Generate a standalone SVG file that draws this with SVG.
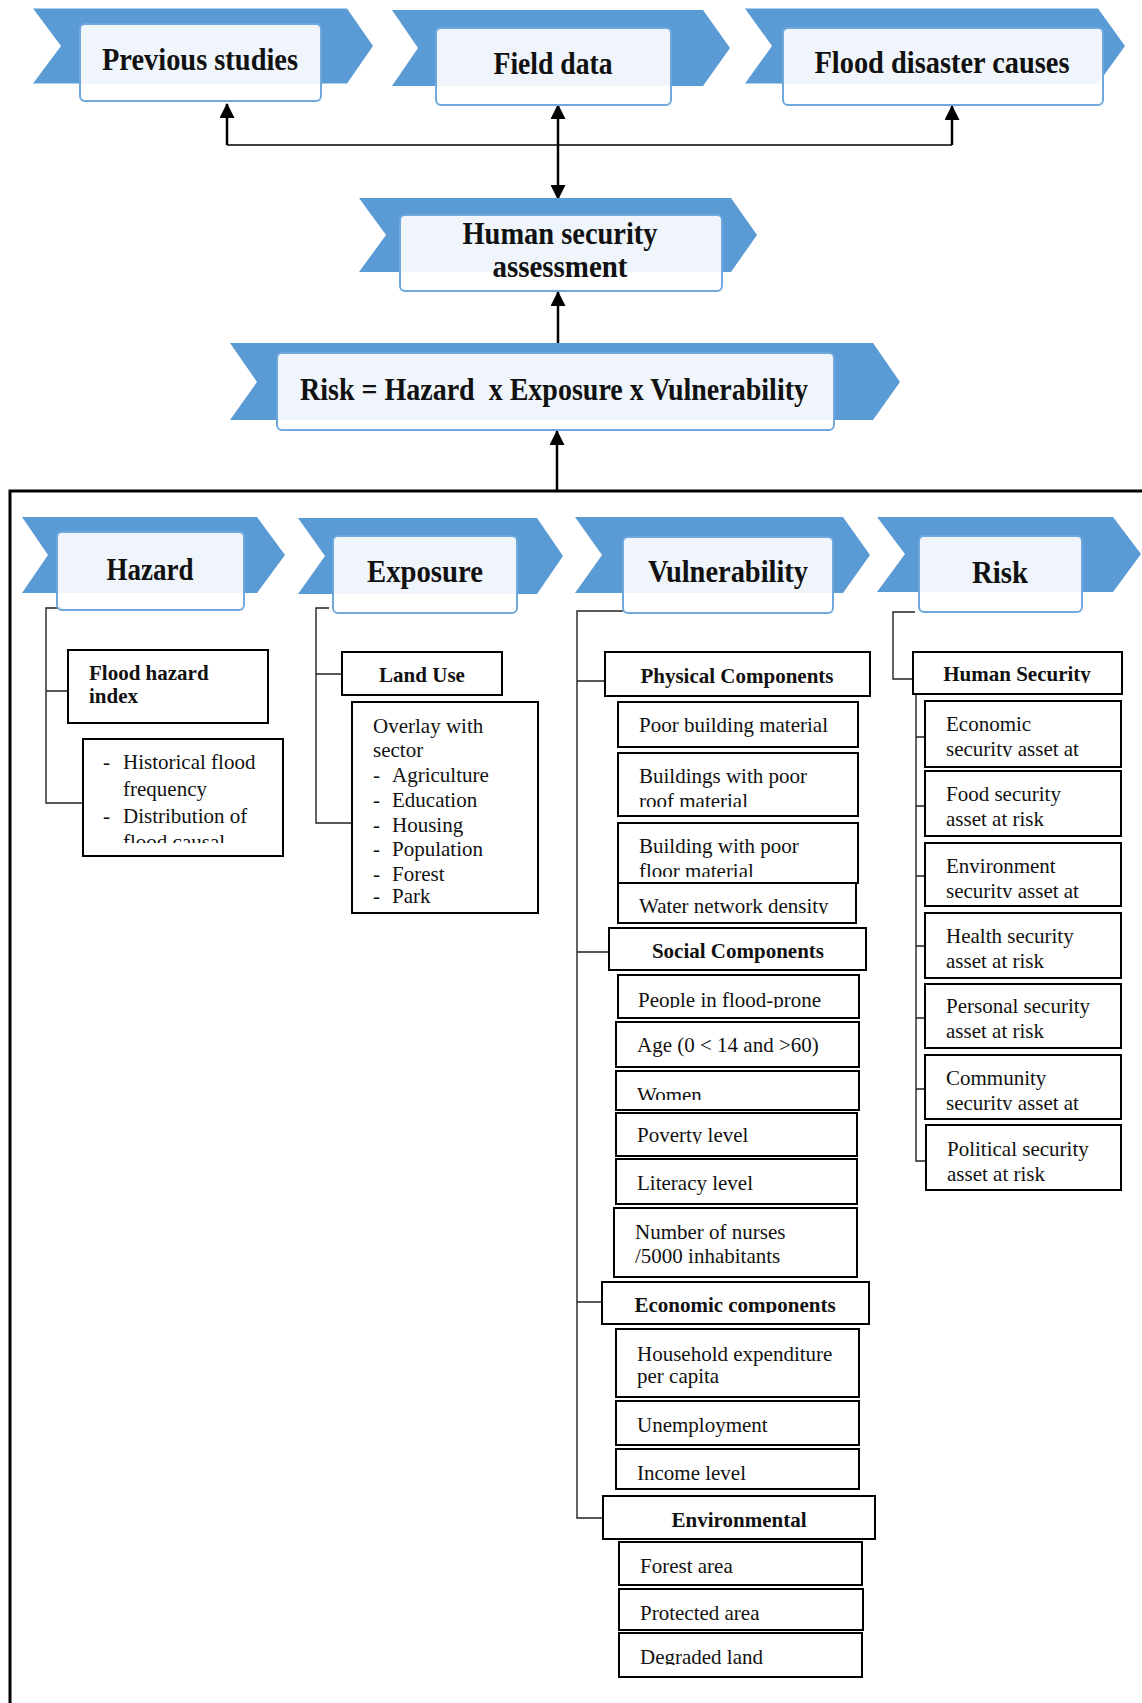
<svg xmlns="http://www.w3.org/2000/svg" width="1142" height="1703" viewBox="0 0 1142 1703">
<defs>
<style>
.chev{fill:#5B9BD5;}
.tbox{fill:#fff;fill-opacity:0.9;stroke:#6FA8DC;stroke-width:2;}
.title{font-family:"Liberation Serif","Times New Roman",serif;font-weight:bold;font-size:31px;fill:#111;text-anchor:middle;}
.box{fill:#fff;stroke:#000;stroke-width:2;}
.t{font-family:"Liberation Serif","Times New Roman",serif;font-size:21px;fill:#111;}
.b{font-weight:bold;}
.m{text-anchor:middle;}
.br{fill:none;stroke:#222;stroke-width:1.4;}
.conn{stroke:#000;stroke-width:2.5;fill:none;}
.thin{stroke:#000;stroke-width:1.6;fill:none;}
</style>
<marker id="ah" viewBox="0 0 15 15" refX="14" refY="7.5" markerWidth="15" markerHeight="15" markerUnits="userSpaceOnUse" orient="auto-start-reverse">
<path d="M0,0 L15,7.5 L0,15 z" fill="#000"/>
</marker>
<clipPath id="c1"><rect x="83" y="739" width="200" height="104"/></clipPath>
<clipPath id="c2"><rect x="618" y="753" width="240" height="54"/></clipPath>
<clipPath id="c3"><rect x="618" y="823" width="240" height="54"/></clipPath>
<clipPath id="c4"><rect x="618" y="883" width="238" height="31"/></clipPath>
<clipPath id="c5"><rect x="618" y="975" width="241" height="33"/></clipPath>
<clipPath id="c6"><rect x="616" y="1071" width="243" height="29"/></clipPath>
<clipPath id="c7"><rect x="616" y="1113" width="241" height="31"/></clipPath>
<clipPath id="c8"><rect x="602" y="1282" width="267" height="31"/></clipPath>
<clipPath id="c9"><rect x="619" y="1633" width="243" height="32"/></clipPath>
<clipPath id="c10"><rect x="913" y="652" width="209" height="31"/></clipPath>
<clipPath id="c11"><rect x="925" y="701" width="196" height="56"/></clipPath>
<clipPath id="c12"><rect x="925" y="843" width="196" height="55"/></clipPath>
<clipPath id="c13"><rect x="925" y="1055" width="196" height="55"/></clipPath>
</defs>
<rect width="1142" height="1703" fill="#fff"/>

<g id="frame"><path d="M1142,491 H10 V1703" fill="none" stroke="#000" stroke-width="3"/></g>

<g id="connectors">
<path class="thin" d="M227,145 H952"/>
<path class="conn" d="M227,145 V104" marker-end="url(#ah)"/>
<path class="conn" d="M952,145 V106" marker-end="url(#ah)"/>
<path class="conn" d="M558,105 V199" marker-start="url(#ah)" marker-end="url(#ah)"/>
<path class="conn" d="M558,343 V292" marker-end="url(#ah)"/>
<path class="conn" d="M557,491 V431" marker-end="url(#ah)"/>
<path class="br" d="M63,608 H46 V803 H83 M46,691 H68"/>
<path class="br" d="M329,608 H316 V823 H352 M316,674 H342"/>
<path class="br" d="M623,611 H577 V1518 H603 M577,681 H605 M577,952 H609 M577,1302 H602"/>
<path class="br" d="M915,612 H893 V679 H913"/>
<path class="br" d="M916,694 V1161 H926 M916,737 H925 M916,806 H925 M916,876 H925 M916,946 H925 M916,1018 H925 M916,1089 H925"/>
</g>

<g id="previous-studies">
<polygon class="chev" points="33,8.5 347,8.5 373,46 347,83.5 33,83.5 61,46"/>
<rect class="tbox" x="80" y="24" width="241" height="77" rx="5"/>
<text class="title" x="200" y="70" textLength="196" lengthAdjust="spacingAndGlyphs">Previous studies</text>
</g>
<g id="field-data">
<polygon class="chev" points="392,10 703,10 730,48 703,86 392,86 418,48"/>
<rect class="tbox" x="436" y="28" width="235" height="77" rx="5"/>
<text class="title" x="553" y="74" textLength="119" lengthAdjust="spacingAndGlyphs">Field data</text>
</g>
<g id="flood-disaster-causes">
<polygon class="chev" points="745,8.5 1098,8.5 1125,46 1098,83.5 745,83.5 772,46"/>
<rect class="tbox" x="783" y="28" width="320" height="77" rx="5"/>
<text class="title" x="942" y="73" textLength="255" lengthAdjust="spacingAndGlyphs">Flood disaster causes</text>
</g>
<g id="human-security-assessment">
<polygon class="chev" points="359,198 731,198 757,235 731,272 359,272 386,235"/>
<rect class="tbox" x="400" y="215" width="322" height="76" rx="5"/>
<text class="title" x="560" y="244" textLength="195" lengthAdjust="spacingAndGlyphs">Human security</text>
<text class="title" x="560" y="277" textLength="135" lengthAdjust="spacingAndGlyphs">assessment</text>
</g>
<g id="risk-formula">
<polygon class="chev" points="230,343 873,343 900,382 873,420 230,420 257,382"/>
<rect class="tbox" x="277" y="353" width="557" height="77" rx="5"/>
<text class="title" x="554" y="400" textLength="508" lengthAdjust="spacingAndGlyphs" style="white-space:pre">Risk = Hazard  x Exposure x Vulnerability</text>
</g>

<g id="hazard">
<polygon class="chev" points="22,517 257,517 285,555 257,593 22,593 48,555"/>
<rect class="tbox" x="57" y="532" width="187" height="78" rx="5"/>
<text class="title" x="150" y="580" textLength="87" lengthAdjust="spacingAndGlyphs">Hazard</text>
</g>
<g id="flood-hazard-index">
<rect class="box" x="68" y="650" width="200" height="73"/>
<text class="t b" x="89" y="680">Flood hazard</text>
<text class="t b" x="89" y="703">index</text>
</g>
<g id="hazard-factors">
<rect class="box" x="83" y="739" width="200" height="117"/>
<g clip-path="url(#c1)">
<text class="t" x="103" y="769">-</text><text class="t" x="123" y="769">Historical flood</text>
<text class="t" x="123" y="796">frequency</text>
<text class="t" x="103" y="823">-</text><text class="t" x="123" y="823">Distribution of</text>
<text class="t" x="123" y="849">flood causal</text>
</g>
</g>

<g id="exposure">
<polygon class="chev" points="298,518 537,518 563,556 537,594 298,594 325,556"/>
<rect class="tbox" x="333" y="536" width="184" height="77" rx="5"/>
<text class="title" x="425" y="582" textLength="116" lengthAdjust="spacingAndGlyphs">Exposure</text>
</g>
<g id="land-use">
<rect class="box" x="342" y="652" width="160" height="43"/>
<text class="t b m" x="422" y="682">Land Use</text>
</g>
<g id="overlay">
<rect class="box" x="352" y="702" width="186" height="211"/>
<text class="t" x="373" y="733">Overlay with</text>
<text class="t" x="373" y="757">sector</text>
<text class="t" x="373" y="782">-</text><text class="t" x="392" y="782">Agriculture</text>
<text class="t" x="373" y="807">-</text><text class="t" x="392" y="807">Education</text>
<text class="t" x="373" y="832">-</text><text class="t" x="392" y="832">Housing</text>
<text class="t" x="373" y="856">-</text><text class="t" x="392" y="856">Population</text>
<text class="t" x="373" y="881">-</text><text class="t" x="392" y="881">Forest</text>
<text class="t" x="373" y="903">-</text><text class="t" x="392" y="903">Park</text>
</g>

<g id="vulnerability">
<polygon class="chev" points="575,517 843,517 870,555 843,593 575,593 602,555"/>
<rect class="tbox" x="623" y="537" width="210" height="76" rx="5"/>
<text class="title" x="728" y="582" textLength="160" lengthAdjust="spacingAndGlyphs">Vulnerability</text>
</g>
<g id="physical-components">
<rect class="box" x="605" y="652" width="265" height="44"/>
<text class="t b m" x="737" y="683">Physical Components</text>
</g>
<g id="poor-building-material">
<rect class="box" x="618" y="702" width="240" height="45"/>
<text class="t" x="639" y="732">Poor building material</text>
</g>
<g id="poor-roof">
<rect class="box" x="618" y="753" width="240" height="63"/>
<g clip-path="url(#c2)">
<text class="t" x="639" y="783">Buildings with poor</text>
<text class="t" x="639" y="808">roof material</text>
</g>
</g>
<g id="poor-floor">
<rect class="box" x="618" y="823" width="240" height="60"/>
<g clip-path="url(#c3)">
<text class="t" x="639" y="853">Building with poor</text>
<text class="t" x="639" y="878">floor material</text>
</g>
</g>
<g id="water-network">
<rect class="box" x="618" y="883" width="238" height="40"/>
<text class="t" x="639" y="913" clip-path="url(#c4)">Water network density</text>
</g>
<g id="social-components">
<rect class="box" x="609" y="928" width="257" height="42"/>
<text class="t b m" x="738" y="958">Social Components</text>
</g>
<g id="flood-prone">
<rect class="box" x="618" y="975" width="241" height="43"/>
<text class="t" x="638" y="1007" clip-path="url(#c5)">People in flood-prone</text>
</g>
<g id="age">
<rect class="box" x="616" y="1022" width="243" height="45"/>
<text class="t" x="637" y="1052">Age (0 &lt; 14 and &gt;60)</text>
</g>
<g id="women">
<rect class="box" x="616" y="1071" width="243" height="39"/>
<text class="t" x="637" y="1102" clip-path="url(#c6)">Women</text>
</g>
<g id="poverty">
<rect class="box" x="616" y="1113" width="241" height="43"/>
<text class="t" x="637" y="1142" clip-path="url(#c7)">Poverty level</text>
</g>
<g id="literacy">
<rect class="box" x="616" y="1159" width="241" height="45"/>
<text class="t" x="637" y="1190">Literacy level</text>
</g>
<g id="nurses">
<rect class="box" x="614" y="1208" width="243" height="69"/>
<text class="t" x="635" y="1239">Number of nurses</text>
<text class="t" x="635" y="1263">/5000 inhabitants</text>
</g>
<g id="economic-components">
<rect class="box" x="602" y="1282" width="267" height="42"/>
<text class="t b m" x="735" y="1312" clip-path="url(#c8)">Economic components</text>
</g>
<g id="household-expenditure">
<rect class="box" x="616" y="1329" width="243" height="68"/>
<text class="t" x="637" y="1361">Household expenditure</text>
<text class="t" x="637" y="1383">per capita</text>
</g>
<g id="unemployment">
<rect class="box" x="616" y="1401" width="243" height="44"/>
<text class="t" x="637" y="1432">Unemployment</text>
</g>
<g id="income">
<rect class="box" x="616" y="1449" width="243" height="40"/>
<text class="t" x="637" y="1480">Income level</text>
</g>
<g id="environmental">
<rect class="box" x="603" y="1496" width="272" height="43"/>
<text class="t b m" x="739" y="1527">Environmental</text>
</g>
<g id="forest-area">
<rect class="box" x="619" y="1542" width="243" height="43"/>
<text class="t" x="640" y="1573">Forest area</text>
</g>
<g id="protected-area">
<rect class="box" x="619" y="1589" width="244" height="41"/>
<text class="t" x="640" y="1620">Protected area</text>
</g>
<g id="degraded-land">
<rect class="box" x="619" y="1633" width="243" height="44"/>
<text class="t" x="640" y="1664" clip-path="url(#c9)">Degraded land</text>
</g>

<g id="risk">
<polygon class="chev" points="877,517 1113,517 1141,554 1113,592 877,592 905,554"/>
<rect class="tbox" x="919" y="536" width="163" height="76" rx="5"/>
<text class="title" x="1000" y="583" textLength="56" lengthAdjust="spacingAndGlyphs">Risk</text>
</g>
<g id="human-security">
<rect class="box" x="913" y="652" width="209" height="42"/>
<text class="t b m" x="1017" y="681" clip-path="url(#c10)">Human Security</text>
</g>
<g id="economic-security">
<rect class="box" x="925" y="701" width="196" height="66"/>
<g clip-path="url(#c11)">
<text class="t" x="946" y="731">Economic</text>
<text class="t" x="946" y="756">security asset at</text>
</g>
</g>
<g id="food-security">
<rect class="box" x="925" y="771" width="196" height="65"/>
<text class="t" x="946" y="801">Food security</text>
<text class="t" x="946" y="826">asset at risk</text>
</g>
<g id="environment-security">
<rect class="box" x="925" y="843" width="196" height="63"/>
<g clip-path="url(#c12)">
<text class="t" x="946" y="873">Environment</text>
<text class="t" x="946" y="898">security asset at</text>
</g>
</g>
<g id="health-security">
<rect class="box" x="925" y="913" width="196" height="65"/>
<text class="t" x="946" y="943">Health security</text>
<text class="t" x="946" y="968">asset at risk</text>
</g>
<g id="personal-security">
<rect class="box" x="925" y="984" width="196" height="64"/>
<text class="t" x="946" y="1013">Personal security</text>
<text class="t" x="946" y="1038">asset at risk</text>
</g>
<g id="community-security">
<rect class="box" x="925" y="1055" width="196" height="64"/>
<g clip-path="url(#c13)">
<text class="t" x="946" y="1085">Community</text>
<text class="t" x="946" y="1110">security asset at</text>
</g>
</g>
<g id="political-security">
<rect class="box" x="926" y="1125" width="195" height="65"/>
<text class="t" x="947" y="1156">Political security</text>
<text class="t" x="947" y="1181">asset at risk</text>
</g>
</svg>
